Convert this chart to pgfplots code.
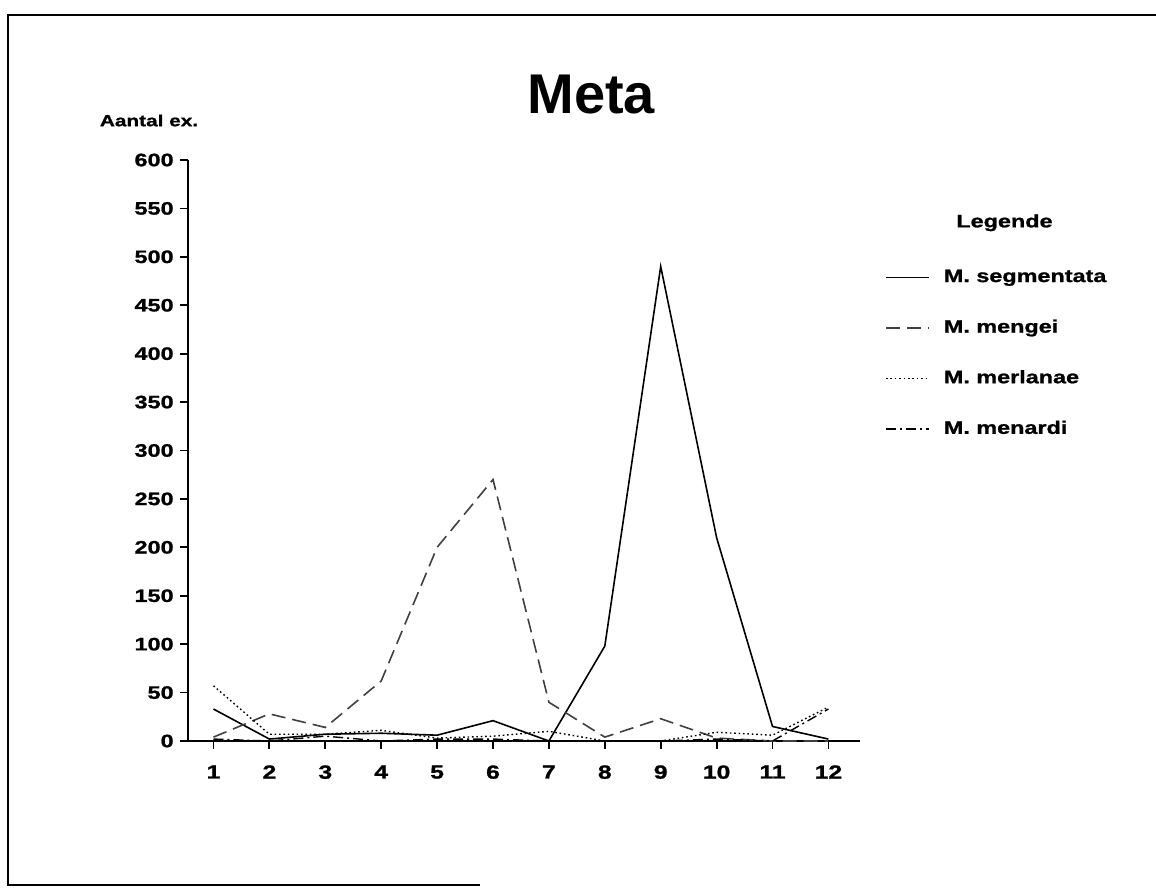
\documentclass[border=0pt]{standalone}
\usepackage{fontspec}
\usepackage{pgfplots}
\pgfplotsset{compat=1.18}
\setmainfont{Liberation Sans}
\newfontfamily\wfont[FakeStretch=1.3, BoldFeatures={FakeBold=1.2}]{Liberation Sans}

% Aantal ex. per maand
\pgfplotstableread{
x  segm  meng  merl  mena
1  33    4     57    2
2  2     28    7     0
3  7     14    7     5
4  8     62    11    0
5  6     200   3     2
6  21    270   5     2
7  0     40    10    0
8  98    4     0     0
9  490   23    0     0
10 210   3     9     2
11 15    0     6     0
12 2     0     35    33
}\meta

\begin{document}
\begin{tikzpicture}
\useasboundingbox (0,0) rectangle (578pt,444pt);
\draw[line width=1.3pt] (240pt,1.5pt) -- (4pt,1.5pt) -- (4pt,436.5pt) -- (578pt,436.5pt);
\begin{axis}[
    at={(94pt,73.5pt)}, anchor=south west,
    scale only axis,
    width=336pt, height=290.5pt,
    xmin=0.544, xmax=12.565,
    ymin=0, ymax=600,
    axis x line*=bottom, axis y line*=left,
    axis line style={line width=1.1pt},
    xtick={1,...,12},
    ytick={0,50,...,600},
    tick align=outside,
    major tick length=4pt,
    tick style={line width=0.9pt, black},
    /pgf/number format/assume math mode=true,
    ticklabel style={font=\wfont\bfseries\fontsize{9}{10}\selectfont},
    yticklabel style={inner sep=0pt, xshift=-3pt},
    xticklabel style={inner sep=0pt, yshift=-8pt, font=\wfont\bfseries\fontsize{9.5}{10}\selectfont},
    clip=false,
    legend cell align=left,
    legend style={draw=none, fill=none, at={(1.037,0.813)}, anchor=north west,
        inner sep=0pt, column sep=7pt, row sep=17pt,
        nodes={inner sep=0pt, text height=6.5pt, text depth=1.8pt},
        font=\wfont\bfseries\fontsize{9}{10}\selectfont},
    legend image code/.code={\draw[#1] (0pt,0pt) -- (21.5pt,0pt);},
]
\addplot[black, line width=0.8pt] table[x=x, y=segm] {\meta};
\addlegendentry{M. segmentata}
\addplot[black!75, line width=0.8pt, dash pattern=on 7pt off 3.5pt] table[x=x, y=meng] {\meta};
\addlegendentry{M. mengei}
\addplot[black, line width=0.7pt, dash pattern=on 0.8pt off 1.4pt] table[x=x, y=merl] {\meta};
\addlegendentry{M. merlanae}
\addplot[black, line width=0.7pt, dash pattern=on 5pt off 2pt on 1pt off 2pt] table[x=x, y=mena] {\meta};
\addlegendentry{M. menardi}

\node[font=\bfseries\fontsize{28}{30}\selectfont] at (rel axis cs:0.6,1.112) {Meta};
\node[font=\wfont\bfseries\fontsize{8}{9}\selectfont] at (rel axis cs:-0.058,1.068) {Aantal ex.};
\node[font=\wfont\bfseries\fontsize{9}{10}\selectfont] at (rel axis cs:1.215,0.892) {Legende};
\end{axis}
\end{tikzpicture}
\end{document}
